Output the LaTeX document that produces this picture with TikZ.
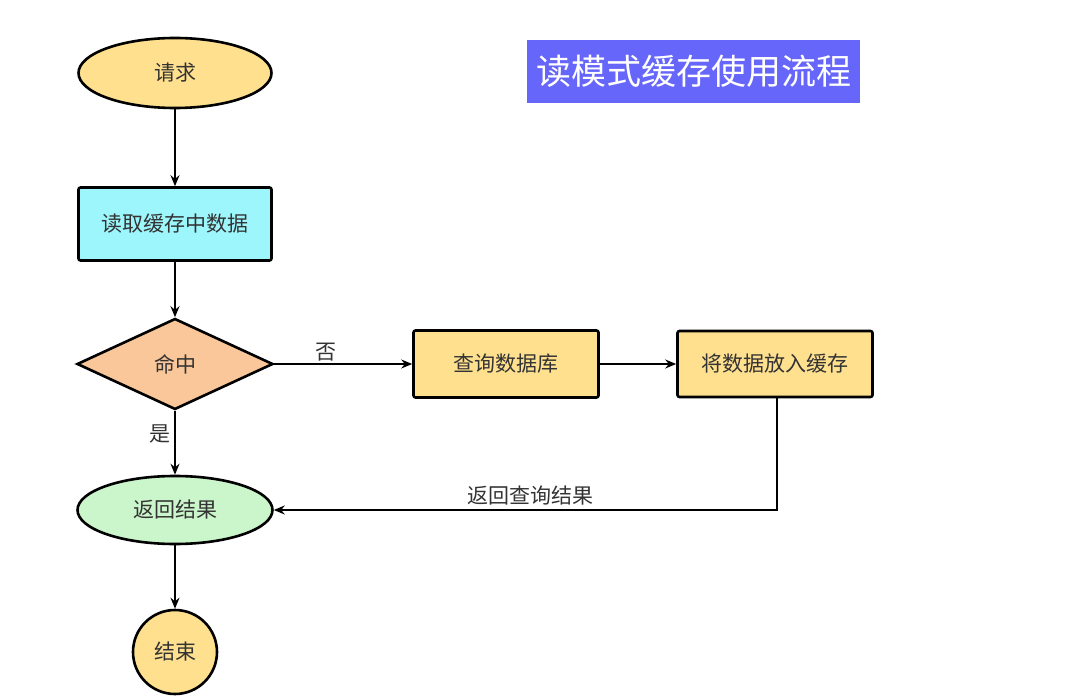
\documentclass[tikz,border=0pt]{standalone}
\usepackage{fontspec}
\setmainfont{Noto Sans CJK SC}
\usetikzlibrary{shapes.geometric,arrows.meta}
\definecolor{yel}{HTML}{FFE08F}
\definecolor{cyanb}{HTML}{9CF6FB}
\definecolor{peach}{HTML}{F9C799}
\definecolor{grn}{HTML}{CBF5CB}
\definecolor{titlebg}{HTML}{6666FA}
\definecolor{txt}{HTML}{333333}
\tikzset{
  base/.style={draw=black, line width=2.6pt, inner sep=0pt, text=txt, font=\fontsize{21}{25}\selectfont},
  term/.style={base, ellipse, minimum width=193pt, minimum height=70pt},
  procbox/.style={base, rectangle, rounded corners=2pt},
  decide/.style={base, diamond, minimum width=196pt, minimum height=91pt},
  endc/.style={base, circle, minimum size=84pt},
  conn/.style={draw=black, line width=1.4pt, -{Stealth[length=11pt,width=9pt]}},
  lbl/.style={text=txt, font=\fontsize{21}{25}\selectfont, inner sep=0pt}
}
\begin{document}
\begin{tikzpicture}[x=1pt,y=-1pt]
\useasboundingbox (0,0) rectangle (1065,700);
\node[term, fill=yel] (req) at (175,73) {请求};
\node[procbox, fill=cyanb, minimum width=193pt, minimum height=73pt] (read) at (175,224) {读取缓存中数据};
\node[decide, fill=peach] (hit) at (175,364) {命中};
\node[procbox, fill=yel, minimum width=185pt, minimum height=67pt] (db) at (506,364) {查询数据库};
\node[procbox, fill=yel, minimum width=195pt, minimum height=66pt] (put) at (775,364) {将数据放入缓存};
\node[term, fill=grn, minimum height=68pt, minimum width=195pt] (ret) at (175,510) {返回结果};
\node[endc, fill=yel] (end) at (175,652) {结束};
\node[fill=titlebg, text=white, minimum width=333pt, minimum height=63pt, inner sep=0pt, font=\fontsize{35}{40}\selectfont] (title) at (693.5,71.5) {读模式缓存使用流程};
\coordinate (corner) at (777,510);
\draw[conn] (req) -- (read);
\draw[conn] (read) -- (hit);
\draw[conn] (hit) -- (ret);
\draw[conn] (ret) -- (end);
\draw[conn] (hit) -- (db);
\draw[conn] (db) -- (put);
\draw[conn] (put.south -| corner) -- (corner) -- (ret);
\node[lbl] (no) at (326,352) {否};
\node[lbl] (yes) at (160,434) {是};
\node[lbl] (retlbl) at (530,496) {返回查询结果};
\end{tikzpicture}
\end{document}
